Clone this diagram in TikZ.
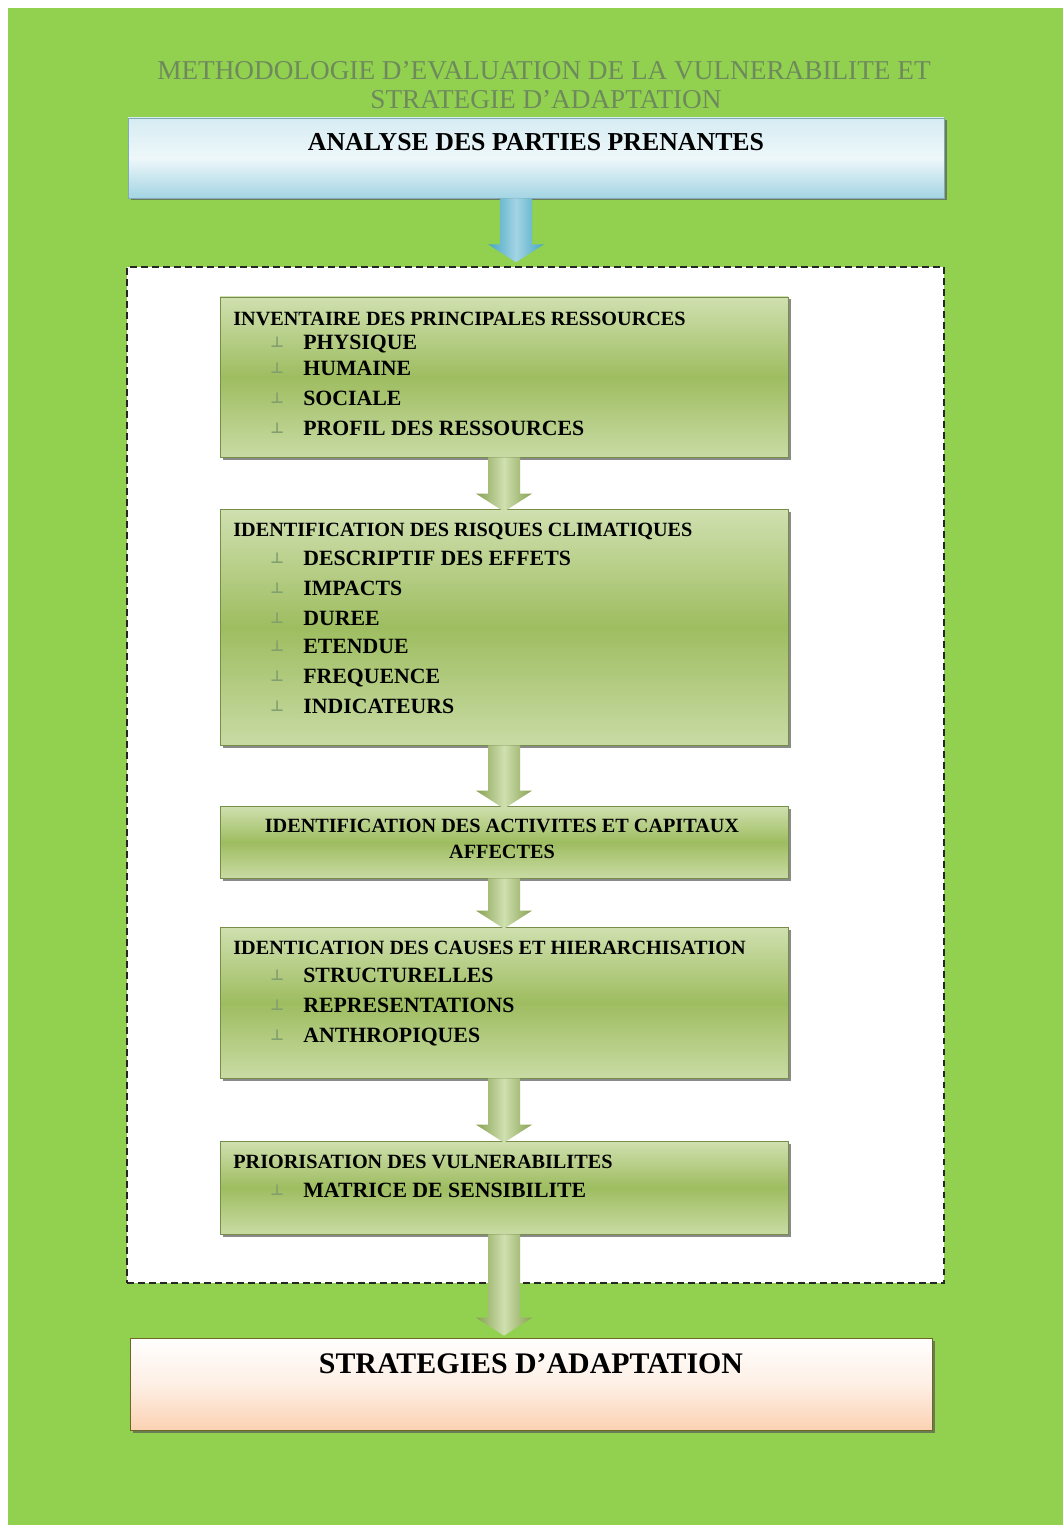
\documentclass[tikz,border=0pt]{standalone}
\usepackage{fontspec}
\setmainfont{Liberation Serif}
\newfontfamily\pucefont{DejaVu Sans}
\usetikzlibrary{positioning,calc,fit,shadows}

\definecolor{fond}{HTML}{92D050}
\definecolor{titre}{HTML}{6E8A5C}
\definecolor{vertclair}{HTML}{D0E0B0}
\definecolor{vertmoyen}{HTML}{9EBD60}
\definecolor{bleuclair}{HTML}{E2F2F7}
\definecolor{bleu}{HTML}{A3D4E3}
\definecolor{bleufonce}{HTML}{45A7C4}
\definecolor{peche}{HTML}{FBD2B3}
\definecolor{puce}{HTML}{829F6E}

% petite puce devant chaque item
\newcommand{\puce}{\makebox[6.6mm][l]{\raisebox{0.4mm}{\color{puce}\pucefont\fontsize{8.5}{8}\selectfont ⊥}}}

\begin{document}
\begin{tikzpicture}[x=0.2mm, y=-0.2mm,
  ombre/.style={drop shadow={shadow xshift=0.5mm, shadow yshift=-0.5mm,
                fill=black!65, opacity=0.7}},
  vbox/.style={inner sep=0pt, draw=vertmoyen!75!black, line width=0.4pt,
               top color=vertclair, bottom color=vertclair!85!vertmoyen,
               middle color=vertmoyen, ombre},
  bbox/.style={inner sep=0pt, draw=bleu!80!black, line width=0.3pt,
               top color=bleuclair!80!bleu, bottom color=bleu, middle color=bleuclair!60!white, ombre},
  obox/.style={inner sep=0pt, draw=olive!70!black, line width=0.4pt,
               top color=white, bottom color=peche, middle color=peche!35!white, ombre},
  cadre/.style={inner sep=0pt, draw=black!85, line width=0.8pt,
                dash pattern=on 1.3mm off 0.9mm, fill=white},
  titre/.style={anchor=base, text=titre, font=\fontsize{15.5}{18}\selectfont},
  tete/.style={anchor=base west, inner sep=0pt, font=\bfseries\fontsize{11.5}{14}\selectfont},
  item/.style={anchor=base west, inner sep=0pt, font=\bfseries\fontsize{12.4}{15}\selectfont},
  fleche/.style={draw=none, to path={
      ($(\tikztostart)+(-16,0)$) -- ($(\tikztotarget)+(-16,-18)$)
      -- ($(\tikztotarget)+(-28,-18)$) -- (\tikztotarget)
      -- ($(\tikztotarget)+(28,-18)$) -- ($(\tikztotarget)+(16,-18)$)
      -- ($(\tikztostart)+(16,0)$) -- cycle}},
  gfleche/.style={fleche, left color=vertmoyen!85!black, right color=vertmoyen!85!black,
                  middle color=vertclair},
  bfleche/.style={fleche, left color=bleufonce, right color=bleufonce,
                  middle color=bleu}]

% fond
\fill[white] (0,0) rectangle (1063,1525);
\fill[fond] (8,8) rectangle (1063,1525);

% titre
\node[titre] (titre1) at (544,80) {METHODOLOGIE D'EVALUATION DE LA VULNERABILITE ET};
\node[titre] (titre2) at (546,109) {STRATEGIE D'ADAPTATION};

% parties prenantes
\node[bbox, fit={(128,118) (944,198)}] (pp) {};
\node[anchor=base, font=\bfseries\fontsize{14.7}{17}\selectfont] (ppt) at (536,151) {ANALYSE DES PARTIES PRENANTES};

% cadre en pointilles
\node[cadre, fit={(127,267) (944,1283)}] (cadre) {};

\coordinate (a0) at ($(pp.south)+(-20,0)$);
\coordinate (a0t) at ($(a0 |- cadre.north)+(0,-4)$);
\shade[bfleche] (a0) to (a0t);

% etapes
\node[vbox, fit={(220,297) (788,457)}] (b1) {};
\node[vbox, fit={(220,509) (788,745)}] (b2) {};
\node[vbox, fit={(220,806) (788,878)}] (b3) {};
\node[vbox, fit={(220,927) (788,1078)}] (b4) {};
\node[vbox, fit={(220,1141) (788,1234)}] (b5) {};

\node[tete] (h1) at (233,326) {INVENTAIRE DES PRINCIPALES RESSOURCES};
\node[item] (r1) at (270,349) {\puce PHYSIQUE};
\node[item] (r2) at (270,375) {\puce HUMAINE};
\node[item] (r3) at (270,405) {\puce SOCIALE};
\node[item] (r4) at (270,435) {\puce PROFIL DES RESSOURCES};

\node[tete] (h2) at (233,536) {IDENTIFICATION DES RISQUES CLIMATIQUES};
\node[item] (c1) at (270,565) {\puce DESCRIPTIF DES EFFETS};
\node[item] (c2) at (270,595) {\puce IMPACTS};
\node[item] (c3) at (270,625) {\puce DUREE};
\node[item] (c4) at (270,653) {\puce ETENDUE};
\node[item] (c5) at (270,683) {\puce FREQUENCE};
\node[item] (c6) at (270,713) {\puce INDICATEURS};

\node[anchor=base, inner sep=0pt, font=\bfseries\fontsize{11.5}{14}\selectfont] (h3a) at (502,832) {IDENTIFICATION DES ACTIVITES ET CAPITAUX};
\node[anchor=base, inner sep=0pt, font=\bfseries\fontsize{11.5}{14}\selectfont] (h3b) at (502,858) {AFFECTES};

\node[tete] (h4) at (233,954) {IDENTICATION DES CAUSES ET HIERARCHISATION};
\node[item] (k1) at (270,982) {\puce STRUCTURELLES};
\node[item] (k2) at (270,1012) {\puce REPRESENTATIONS};
\node[item] (k3) at (270,1042) {\puce ANTHROPIQUES};

\node[tete] (h5) at (233,1168) {PRIORISATION DES VULNERABILITES};
\node[item] (m1) at (270,1197) {\puce MATRICE DE SENSIBILITE};

% strategies
\node[obox, fit={(130,1338) (932,1430)}] (st) {};
\node[anchor=base, font=\bfseries\fontsize{17}{20}\selectfont] (stt) at (531,1373) {STRATEGIES D'ADAPTATION};

% fleches entre les etapes
\coordinate (t2) at ($(b2.north)+(0,3)$);
\coordinate (t3) at ($(b3.north)+(0,3)$);
\coordinate (t4) at ($(b4.north)+(0,2)$);
\coordinate (t5) at ($(b5.north)+(0,2)$);
\coordinate (t6) at ($(b5.south |- st.north)+(0,-2)$);
\shade[gfleche] (b1.south) to (t2);
\shade[gfleche] (b2.south) to (t3);
\shade[gfleche] (b3.south) to (t4);
\shade[gfleche] (b4.south) to (t5);
\shade[gfleche] (b5.south) to (t6);
\end{tikzpicture}
\end{document}
